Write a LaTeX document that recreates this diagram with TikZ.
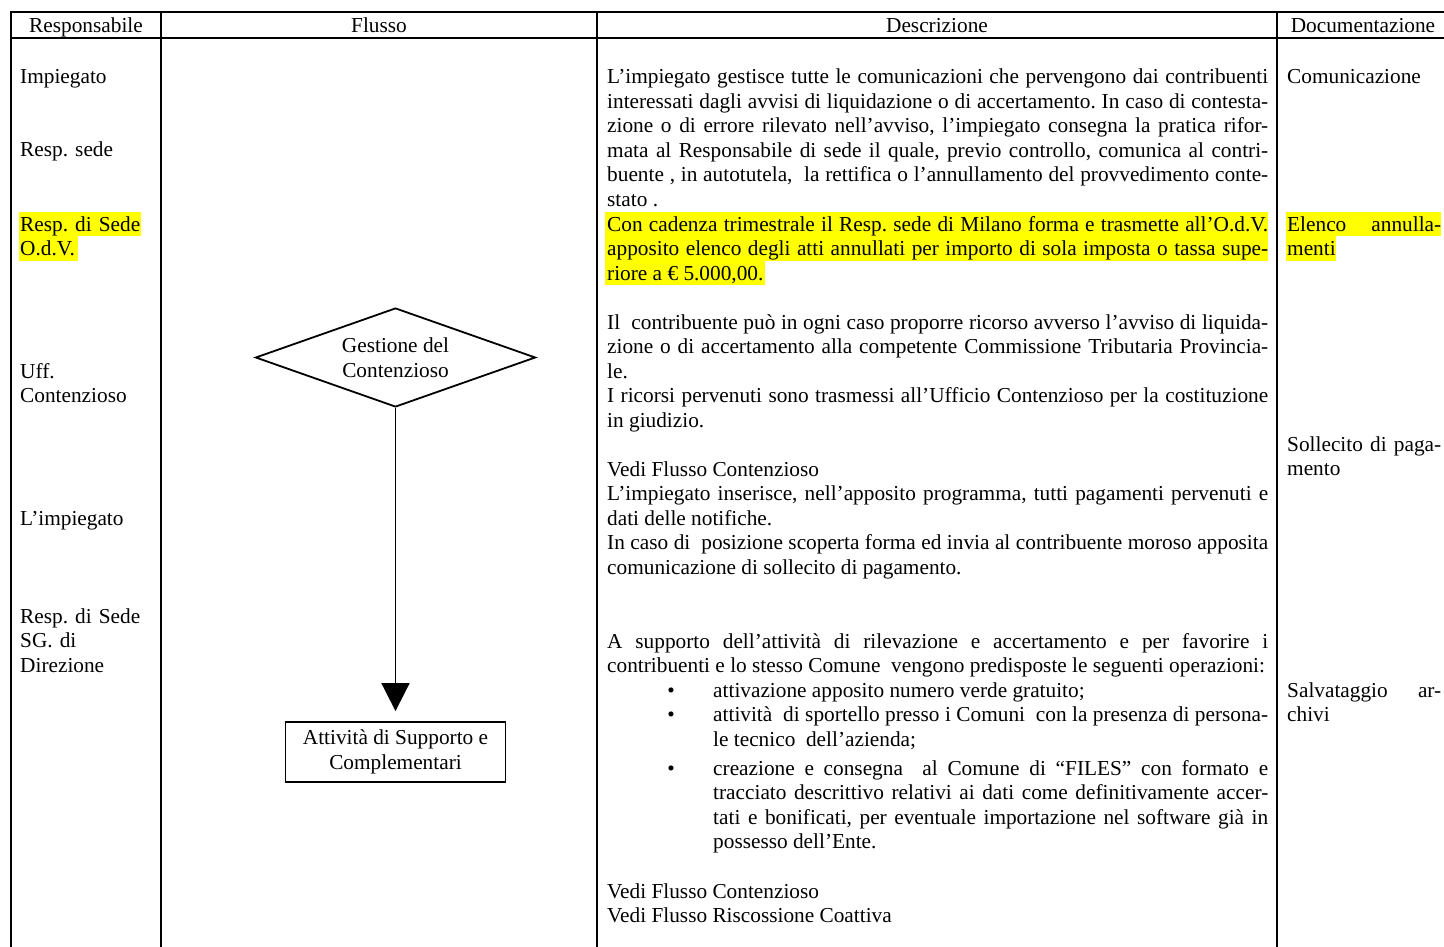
\documentclass[tikz,border=0pt]{standalone}
\usepackage{fontspec}
\setmainfont{Liberation Serif}
\usetikzlibrary{shapes.geometric,arrows.meta}
\definecolor{hlyellow}{RGB}{255,255,0}
\newcommand\cellfont{\fontsize{21.3}{24.5}\selectfont\frenchspacing
  \tolerance=10000 \hbadness=10000 \hyphenpenalty=10000 }
\begin{document}
\begin{tikzpicture}[x=1pt,y=-1pt,
  rule/.style={line width=2pt},
  hilite/.style={fill=hlyellow,draw=none},
  headtxt/.style={anchor=base,inner sep=0pt,font=\cellfont},
  resptxt/.style={anchor=base west,inner sep=0pt,font=\cellfont,text width=135pt,align=left},
  desctxt/.style={anchor=base west,inner sep=0pt,font=\cellfont,text width=661pt,align=justify},
  itemtxt/.style={anchor=base west,inner sep=0pt,font=\cellfont,text width=555pt,align=justify},
  doctxt/.style={anchor=base west,inner sep=0pt,font=\cellfont,text width=154pt,align=justify},
  bul/.style={anchor=base,inner sep=0pt,font=\cellfont},
  decision/.style={diamond,draw,line width=1.8pt,minimum width=280pt,minimum height=99pt,
    aspect=2.83,inner sep=0pt,font=\cellfont,align=center},
  process/.style={rectangle,draw,line width=1.8pt,minimum width=220pt,minimum height=60pt,
    inner sep=0pt,font=\cellfont,align=center},
  flow/.style={line width=1.8pt,-{Triangle[length=28pt,width=28pt]},shorten >=10pt}
]
\useasboundingbox (0,0) rectangle (1444,947);

% highlighted passages
\fill[hilite] (19,211.5) rectangle (141,236);
\fill[hilite] (19,236) rectangle (78,260.5);
\fill[hilite] (605,211.5) rectangle (1268,260.5);
\fill[hilite] (605,260.5) rectangle (765,285);
\fill[hilite] (1286,211.5) rectangle (1441,236);
\fill[hilite] (1286,236) rectangle (1336,260.5);

% table rules
\draw[rule] (10,12) -- (1444,12);
\draw[line width=1.6pt] (10,38) -- (1444,38);
\draw[rule] (11,12) -- (11,947);
\draw[rule] (161,12) -- (161,947);
\draw[rule] (597,12) -- (597,947);
\draw[rule] (1277,12) -- (1277,947);

% header
\node[headtxt] (hResp) at (86,32.5) {Responsabile};
\node[headtxt] (hFlusso) at (379,32.5) {Flusso};
\node[headtxt] (hDescr) at (937,32.5) {Descrizione};
\node[headtxt] (hDoc) at (1363,32.5) {Documentazione};

% responsabile column
\node[resptxt] (r1) at (20,84) {Impiegato};
\node[resptxt] (r2) at (20,157) {Resp. sede};
\node[resptxt] (r3) at (20,231) {Resp. di Sede\\O.d.V.};
\node[resptxt] (r4) at (20,378) {Uff.\\Contenzioso};
\node[resptxt] (r5) at (20,525) {L’impiegato};
\node[resptxt] (r6) at (20,623) {Resp. di Sede\\SG. di\\Direzione};

% flow column
\node[decision] (dia) at (395.5,357.5) {Gestione del\\Contenzioso};
\node[process] (box) at (395.5,752) {Attività di Supporto e\\Complementari};
\draw[flow] (dia.south) -- (box.north);

% description column
\node[desctxt] (d1) at (607,84) {L’impiegato gestisce tutte le comunicazioni che pervengono dai contribuenti\linebreak
interessati dagli avvisi di liquidazione o di accertamento. In caso di contesta-\linebreak
zione o di errore rilevato nell’avviso, l’impiegato consegna la pratica rifor-\linebreak
mata al Responsabile di sede il quale, previo controllo, comunica al contri-\linebreak
buente , in autotutela, \ la rettifica o l’annullamento del provvedimento conte-\linebreak
stato .};
\node[desctxt] (d2) at (607,231) {Con cadenza trimestrale il Resp. sede di Milano forma e trasmette all’O.d.V.\linebreak
apposito elenco degli atti annullati per importo di sola imposta o tassa supe-\linebreak
riore a € 5.000,00.};
\node[desctxt] (d3) at (607,329) {Il \ contribuente può in ogni caso proporre ricorso avverso l’avviso di liquida-\linebreak
zione o di accertamento alla competente Commissione Tributaria Provincia-\linebreak
le.\\
I ricorsi pervenuti sono trasmessi all’Ufficio Contenzioso per la costituzione\linebreak
in giudizio.};
\node[desctxt] (d4) at (607,476) {Vedi Flusso Contenzioso\\
L’impiegato inserisce, nell’apposito programma, tutti pagamenti pervenuti e\linebreak
dati delle notifiche.\\
In caso di \ posizione scoperta forma ed invia al contribuente moroso apposita\linebreak
comunicazione di sollecito di pagamento.};
\node[desctxt] (d5) at (607,648) {A supporto dell’attività di rilevazione e accertamento e per favorire i\linebreak
contribuenti e lo stesso Comune \ vengono predisposte le seguenti operazioni:};
\node[bul] (b1) at (671,697) {•};
\node[itemtxt] (i1) at (713,697) {attivazione apposito numero verde gratuito;};
\node[bul] (b2) at (671,721.5) {•};
\node[itemtxt] (i2) at (713,721.5) {attività \ di sportello presso i Comuni \ con la presenza di persona-\linebreak
le tecnico \ dell’azienda;};
\node[bul] (b3) at (671,775) {•};
\node[itemtxt] (i3) at (713,775) {creazione e consegna \ al Comune di “FILES” con formato e\linebreak
tracciato descrittivo relativi ai dati come definitivamente accer-\linebreak
tati e bonificati, per eventuale importazione nel software già in\linebreak
possesso dell’Ente.};
\node[desctxt] (d6) at (607,898) {Vedi Flusso Contenzioso\\
Vedi Flusso Riscossione Coattiva};

% documentation column
\node[doctxt] (c1) at (1287,84) {Comunicazione};
\node[doctxt] (c2) at (1287,231) {Elenco annulla-\linebreak menti};
\node[doctxt] (c3) at (1287,451) {Sollecito di paga-\linebreak mento};
\node[doctxt] (c4) at (1287,697) {Salvataggio ar-\linebreak chivi};
\end{tikzpicture}
\end{document}
